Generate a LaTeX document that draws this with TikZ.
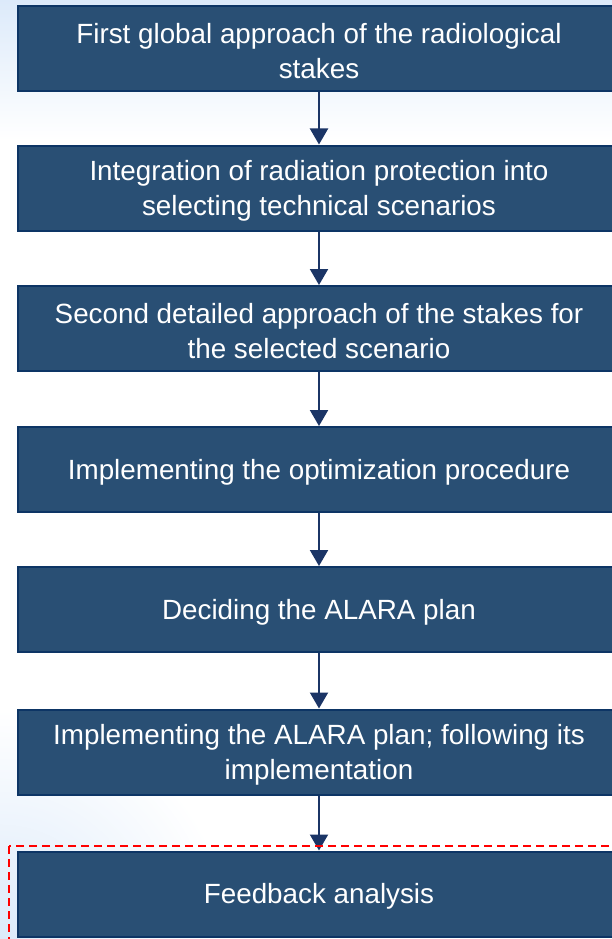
\documentclass[tikz,border=0pt]{standalone}
\usepackage{fontspec}
\setmainfont{Liberation Sans}
\usetikzlibrary{arrows.meta}
\definecolor{boxfill}{HTML}{294F74}
\definecolor{boxline}{HTML}{0D3565}
\definecolor{arrowcol}{HTML}{1B3566}
\definecolor{bgblue}{HTML}{DCEAFA}
\tikzset{
  stepbox/.style={draw=boxline, line width=2pt, fill=boxfill,
    minimum width=602pt, minimum height=85pt, inner sep=0pt},
  steptext/.style={text=white, align=center, inner sep=0pt, yshift=-2.5pt,
    font=\fontsize{27.8}{35}\selectfont},
  flow/.style={draw=arrowcol, line width=2pt, -{Triangle[width=18pt,length=16pt]}}
}
\begin{document}
\begin{tikzpicture}[x=1pt,y=-1pt]
\useasboundingbox (0,0) rectangle (612,939);
\clip (0,0) rectangle (612,939);
\fill[white] (0,0) rectangle (612,939);
\shade[top color=bgblue, bottom color=white] (0,0) rectangle (612,140);
\shade[inner color=bgblue, outer color=white] (0,939) circle (230);
\node[stepbox, label={[steptext]center:First global approach of the radiological\\stakes}] (b1) at (319,49) {};
\node[stepbox, label={[steptext]center:Integration of radiation protection into\\selecting technical scenarios}] (b2) at (319,188) {};
\node[stepbox, label={[steptext]center:Second detailed approach of the stakes for\\the selected scenario}] (b3) at (319,328.5) {};
\node[stepbox, label={[steptext]center:Implementing the optimization procedure}] (b4) at (319,469.5) {};
\node[stepbox, label={[steptext]center:Deciding the ALARA plan}] (b5) at (319,609.5) {};
\node[stepbox, label={[steptext]center:Implementing the ALARA plan; following its\\implementation}] (b6) at (319,752) {};
\node[stepbox, label={[steptext]center:Feedback analysis}] (b7) at (319,894) {};
\draw[flow] (b1) -- (b2);
\draw[flow] (b2) -- (b3);
\draw[flow] (b3) -- (b4);
\draw[flow] (b4) -- (b5);
\draw[flow] (b5) -- (b6);
\draw[flow] (b6) -- (b7);
\draw[red, line width=2pt, dash pattern=on 8pt off 5pt] (9,846) rectangle (640,970);
\end{tikzpicture}
\end{document}
